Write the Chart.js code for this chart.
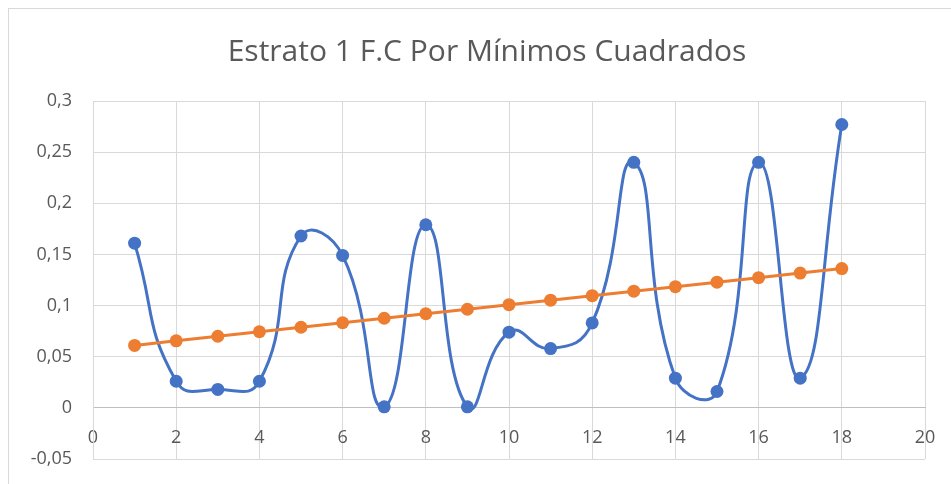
<!DOCTYPE html>
<html lang="es">
<head>
<meta charset="utf-8">
<title>Estrato 1 F.C Por Mínimos Cuadrados</title>
<script src="https://cdn.jsdelivr.net/npm/chart.js@4/dist/chart.umd.min.js"></script>
<style>
  html, body { margin: 0; padding: 0; background: #ffffff; overflow: hidden; }
  #wrap { position: relative; width: 951px; height: 484px; overflow: hidden; }
</style>
</head>
<body>
<div id="wrap"><canvas id="chart" width="974" height="484"></canvas></div>
<script>
// Muestras del estrato 1
const xValues = [1, 2, 3, 4, 5, 6, 7, 8, 9, 10, 11, 12, 13, 14, 15, 16, 17, 18];
// Frecuencia observada
const observed = [0.161, 0.026, 0.018, 0.026, 0.168, 0.149, 0.001, 0.179, 0.001,
                  0.074, 0.058, 0.083, 0.240, 0.029, 0.016, 0.240, 0.029, 0.277];
// Ajuste por mínimos cuadrados
const fitted = [0.061, 0.0655, 0.070, 0.0744, 0.0788, 0.0832, 0.0876, 0.092, 0.0964,
                0.1009, 0.1053, 0.1097, 0.1141, 0.1185, 0.1229, 0.1273, 0.1318, 0.1362];

const xTickValues = [0, 2, 4, 6, 8, 10, 12, 14, 16, 18, 20];
const xTickLabels = ['0', '2', '4', '6', '8', '10', '12', '14', '16', '18', '20'];
const yTickValues = [-0.05, 0, 0.05, 0.1, 0.15, 0.2, 0.25, 0.3];
const yTickLabels = ['-0,05', '0', '0,05', '0,1', '0,15', '0,2', '0,25', '0,3'];

const TEXT = '#595959';
const GRID = '#d9d9d9';
const FONT = '"Open Sans", "Noto Sans", sans-serif';

const toPoints = (ys) => xValues.map((x, i) => ({ x: x, y: ys[i] }));
const labelFor = (values, labels) => (v) => {
  const i = values.findIndex(t => Math.abs(t - v) < 1e-9);
  return i >= 0 ? labels[i] : '';
};

// Marco del área del gráfico
const frame = {
  id: 'frame',
  beforeDraw(chart) {
    const ctx = chart.ctx;
    ctx.save();
    ctx.strokeStyle = GRID;
    ctx.lineWidth = 1;
    ctx.strokeRect(8.5, 8.5, 1200, 1200);
    ctx.restore();
  }
};

new Chart(document.getElementById('chart'), {
  type: 'line',
  data: {
    datasets: [
      {
        label: 'Ajuste',
        data: toPoints(fitted),
        borderColor: '#ED7D31',
        backgroundColor: '#ED7D31',
        borderWidth: 3,
        pointRadius: 6.5,
        pointHoverRadius: 6.5,
        pointBorderWidth: 0,
        tension: 0,
        order: 0
      },
      {
        label: 'Observado',
        data: toPoints(observed),
        borderColor: '#4472C4',
        backgroundColor: '#4472C4',
        borderWidth: 3,
        pointRadius: 6.5,
        pointHoverRadius: 6.5,
        pointBorderWidth: 0,
        tension: 0.5,
        order: 1
      }
    ]
  },
  options: {
    responsive: false,
    animation: false,
    events: [],
    layout: { padding: { left: 0, right: 0, top: 8, bottom: 25 } },
    plugins: {
      legend: { display: false },
      tooltip: { enabled: false },
      title: {
        display: true,
        text: 'Estrato 1 F.C Por Mínimos Cuadrados',
        color: TEXT,
        font: { family: FONT, size: 30, weight: 'normal' },
        padding: { top: 26, bottom: 31 }
      }
    },
    scales: {
      x: {
        type: 'linear',
        position: { y: 0 },
        min: 0,
        max: 20,
        afterBuildTicks: (s) => { s.ticks = xTickValues.map(v => ({ value: v })); },
        afterFit: (s) => { s.height = 0; },
        ticks: {
          color: TEXT,
          font: { family: FONT, size: 18 },
          padding: 19,
          maxRotation: 0,
          callback: labelFor(xTickValues, xTickLabels)
        },
        grid: { color: GRID, lineWidth: 1, drawTicks: false },
        border: { color: '#bfbfbf', width: 1 }
      },
      y: {
        type: 'linear',
        min: -0.05,
        max: 0.3,
        afterBuildTicks: (s) => { s.ticks = yTickValues.map(v => ({ value: v })); },
        afterFit: (s) => { s.width = 93; s.paddingTop = 0; s.paddingBottom = 0; },
        ticks: {
          color: TEXT,
          font: { family: FONT, size: 18 },
          padding: 21,
          callback: labelFor(yTickValues, yTickLabels)
        },
        grid: { color: GRID, lineWidth: 1, drawTicks: false },
        border: { color: GRID, width: 1 }
      },
      // margen derecho del área de trazado
      yRight: {
        type: 'linear',
        position: 'right',
        afterFit: (s) => { s.width = 49; s.paddingTop = 0; s.paddingBottom = 0; },
        ticks: { display: false },
        grid: { display: false },
        border: { display: false }
      }
    }
  },
  plugins: [frame]
});
</script>
</body>
</html>
